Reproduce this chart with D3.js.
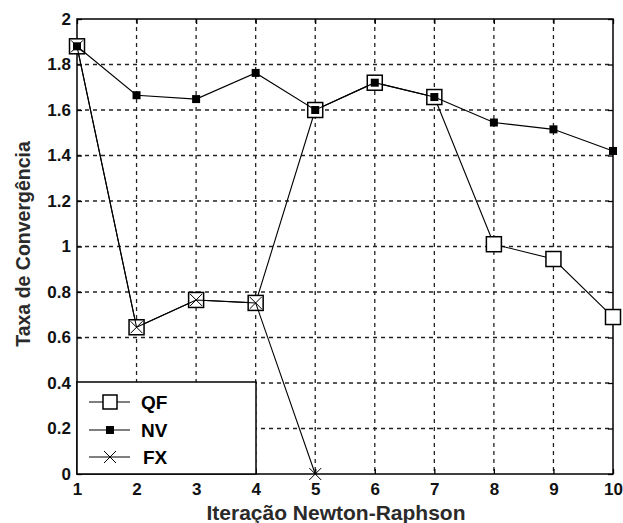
<!DOCTYPE html>
<html>
<head>
<meta charset="utf-8">
<script src="https://cdn.jsdelivr.net/npm/d3@7"></script>
<style>
body { margin:0; background:#fff; }
text { font-family: "Liberation Sans", Arial, sans-serif; font-weight:bold; }
</style>
</head>
<body>
<div id="chart"></div>
<script>
var iteracoes = [1,2,3,4,5,6,7,8,9,10];
var qf = [1.88, 0.645, 0.765, 0.752, 1.60, 1.72, 1.657, 1.01, 0.945, 0.69];
var nv = [1.88, 1.665, 1.648, 1.763, 1.60, 1.72, 1.657, 1.545, 1.515, 1.42];
var fxIter = [1,2,3,4,5];
var fx = [1.88, 0.645, 0.765, 0.752, 0];
var yTicks = [0,0.2,0.4,0.6,0.8,1,1.2,1.4,1.6,1.8,2];

var W = 623, H = 523;
var pLeft = 77, pRight = 613, pTop = 19, pBottom = 474;

var svg = d3.select("#chart").append("svg")
    .attr("width", W)
    .attr("height", H);

var xScale = d3.scaleLinear().domain([1,10]).range([pLeft,pRight]);
var yScale = d3.scaleLinear().domain([0,2]).range([pBottom,pTop]);

// grid
svg.append("g").selectAll("line").data(iteracoes.slice(1,-1)).join("line")
    .attr("x1", d => xScale(d)).attr("x2", d => xScale(d))
    .attr("y1", pTop).attr("y2", pBottom)
    .attr("stroke", "#222").attr("stroke-width", 1.3).attr("stroke-dasharray", "4,4");
svg.append("g").selectAll("line").data(yTicks.slice(1,-1)).join("line")
    .attr("y1", d => yScale(d)).attr("y2", d => yScale(d))
    .attr("x1", pLeft).attr("x2", pRight)
    .attr("stroke", "#222").attr("stroke-width", 1.3).attr("stroke-dasharray", "4,4");

// axes with inner ticks
svg.append("g").attr("transform", "translate(0," + pBottom + ")")
    .call(d3.axisBottom(xScale).tickValues(iteracoes).tickFormat(d3.format("d")).tickSizeInner(-5).tickSizeOuter(0).tickPadding(9));
svg.append("g").attr("transform", "translate(" + pLeft + ",0)")
    .call(d3.axisLeft(yScale).tickValues(yTicks).tickFormat(d => d3.format("")(d)).tickSizeInner(-5).tickSizeOuter(0).tickPadding(6));
svg.append("g").attr("transform", "translate(0," + pTop + ")")
    .call(d3.axisTop(xScale).tickValues(iteracoes).tickFormat("").tickSizeInner(-5).tickSizeOuter(0));
svg.append("g").attr("transform", "translate(" + pRight + ",0)")
    .call(d3.axisRight(yScale).tickValues(yTicks).tickFormat("").tickSizeInner(-5).tickSizeOuter(0));
svg.selectAll(".domain").remove();
svg.selectAll(".tick line").attr("stroke", "#000").attr("stroke-width", 1.3);
svg.selectAll(".tick text").attr("font-size", 17).attr("fill", "#111")
    .style("font-family", "Liberation Sans, Arial, sans-serif").style("font-weight", "bold");

svg.append("rect")
    .attr("x", pLeft).attr("y", pTop)
    .attr("width", pRight-pLeft).attr("height", pBottom-pTop)
    .attr("fill", "none").attr("stroke", "#000").attr("stroke-width", 1.5);

var line = d3.line().x(d => xScale(d[0])).y(d => yScale(d[1]));

function drawSquare(g, x, y, s, fill) {
    g.append("rect").attr("x", x - s/2).attr("y", y - s/2)
        .attr("width", s).attr("height", s)
        .attr("fill", fill).attr("stroke", "#000").attr("stroke-width", 1.5);
}
function drawX(g, x, y, s) {
    g.append("path")
        .attr("d", "M" + (x-s) + "," + (y-s) + "L" + (x+s) + "," + (y+s) + "M" + (x-s) + "," + (y+s) + "L" + (x+s) + "," + (y-s))
        .attr("stroke", "#000").attr("stroke-width", 1).attr("fill", "none");
}

// QF
var gQF = svg.append("g");
gQF.append("path").datum(iteracoes.map((d,i) => [d, qf[i]]))
    .attr("d", line).attr("fill", "none").attr("stroke", "#000").attr("stroke-width", 1.1);
iteracoes.forEach((d,i) => drawSquare(gQF, xScale(d), yScale(qf[i]), 15, "#fff"));

// NV
var gNV = svg.append("g");
gNV.append("path").datum(iteracoes.map((d,i) => [d, nv[i]]))
    .attr("d", line).attr("fill", "none").attr("stroke", "#000").attr("stroke-width", 1.1);
iteracoes.forEach((d,i) => gNV.append("rect")
    .attr("x", xScale(d) - 4).attr("y", yScale(nv[i]) - 4)
    .attr("width", 8).attr("height", 8).attr("fill", "#000"));

// FX
var gFX = svg.append("g");
gFX.append("path").datum(fxIter.map((d,i) => [d, fx[i]]))
    .attr("d", line).attr("fill", "none").attr("stroke", "#000").attr("stroke-width", 1.1);
fxIter.forEach((d,i) => drawX(gFX, xScale(d), yScale(fx[i]), 6));

// legend
var lg = svg.append("g");
lg.append("rect").attr("x", pLeft).attr("y", 382).attr("width", 256-pLeft).attr("height", pBottom-382)
    .attr("fill", "#fff").attr("stroke", "#000").attr("stroke-width", 1.5);
var legendItems = ["QF","NV","FX"];
var legendY = [402, 430, 457];
legendItems.forEach(function(name, i) {
    var y = legendY[i];
    lg.append("line").attr("x1", 89).attr("x2", 130).attr("y1", y).attr("y2", y)
        .attr("stroke", "#000").attr("stroke-width", 1.1);
    if (name == "QF") drawSquare(lg, 110, y, 14, "#fff");
    if (name == "NV") lg.append("rect").attr("x", 106).attr("y", y-4).attr("width", 8).attr("height", 8).attr("fill", "#000");
    if (name == "FX") drawX(lg, 110, y, 6);
    lg.append("text").attr("x", name == "FX" ? 143 : 141).attr("y", y + 7)
        .attr("font-size", 19).text(name);
});

// titles
svg.append("text").attr("x", 336).attr("y", 520)
    .attr("text-anchor", "middle").attr("font-size", 21).attr("fill", "#2a2a2a")
    .text("Iteração Newton-Raphson");
svg.append("text").attr("transform", "translate(30,244) rotate(-90)")
    .attr("text-anchor", "middle").attr("font-size", 19.5).attr("fill", "#2a2a2a")
    .text("Taxa de Convergência");
</script>
</body>
</html>
